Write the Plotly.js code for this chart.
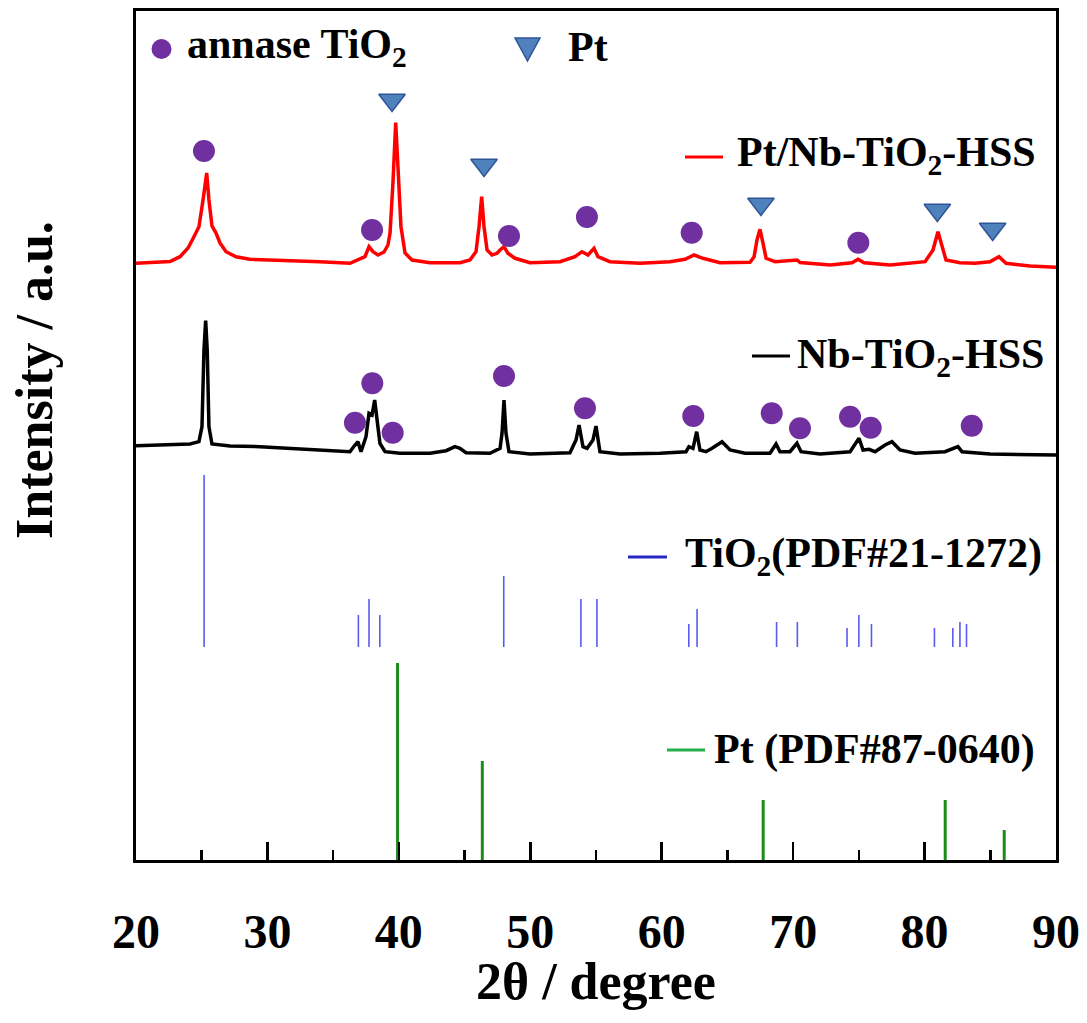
<!DOCTYPE html>
<html>
<head>
<meta charset="utf-8">
<script src="https://cdn.plot.ly/plotly-3.0.1.min.js"></script>
<style>
html,body{margin:0;padding:0;background:#fff;}
#chart{width:1087px;height:1023px;}
</style>
</head>
<body>
<div id="chart"></div>
<script>
// ---------- DATA ----------
// Pt/Nb-TiO2-HSS pattern (red)
const ptNbTheta = [20.00,21.07,22.59,23.35,23.96,24.41,24.79,25.10,25.38,25.55,25.78,26.09,26.39,26.85,27.61,28.67,30.96,34.00,36.28,37.42,37.73,38.03,38.41,38.87,39.17,39.33,39.55,39.76,39.93,40.16,40.47,41.00,42.37,44.65,45.41,45.87,46.10,46.30,46.48,46.71,47.09,47.47,47.70,48.00,48.30,48.84,49.98,52.26,53.40,53.93,54.39,54.85,55.15,56.06,58.35,60.63,61.77,62.46,63.14,64.44,66.72,67.03,67.25,67.48,67.71,67.94,68.63,70.30,70.53,72.81,74.48,74.94,75.40,77.38,80.04,80.64,81.02,81.33,81.63,82.70,83.84,84.98,85.66,86.20,88.02,90.00];
const ptNbInt   = [596.7,597.7,598.5,603.3,612,623.3,633.3,660,687,660,634,627,617,608.3,603.3,600.7,600,598.3,596.7,603.3,613.3,608.3,605,608,615,627,677,737.3,693.3,633.3,607,600,597.3,597.3,600,608.3,633.3,663.3,633.3,610,605,606.7,610,613.3,606.7,601.7,597.3,598.3,603.3,608.3,605,611.7,603.3,598.3,596.7,598.3,600.7,605,601.7,597.3,597.7,603.3,620,630.7,616.7,601.7,598.3,600,597.5,595,597.3,600.7,597.3,595,598.3,610,628.3,613.3,600,597.3,596.7,598.3,603.3,596.7,594,592.7];

// Nb-TiO2-HSS pattern (black)
const nbTheta = [20.00,21.83,24.11,24.79,25.02,25.17,25.30,25.42,25.55,25.78,27.15,29.43,31.72,34.00,36.28,36.66,36.89,37.12,37.50,37.73,37.96,38.16,38.34,38.56,38.95,40.09,42.37,43.59,44.27,44.65,45.11,46.93,47.70,47.85,48.00,48.15,48.38,49.98,53.02,53.48,53.71,54.01,54.32,54.77,55.00,55.30,56.83,59.87,61.85,62.07,62.38,62.66,62.91,63.37,63.83,64.59,65.20,66.34,68.24,68.70,69.00,69.76,70.29,70.60,72.04,74.33,75.01,75.32,75.78,76.23,76.99,77.52,78.13,79.27,81.55,81.93,82.54,82.85,84.98,90.00];
const nbInt   = [414.3,415,416,418.3,433.3,510,539.3,510,433.3,416,414,413.3,411.7,409.3,408.3,415,418.3,408.3,423.3,446.7,445,460,440,416.7,408.3,406.7,406.7,409.3,413.3,411.7,407.3,406.7,411.7,426.7,460,427,408.3,406,407.3,420,435,413.3,411.7,420,434,408.3,406,406.7,408.3,413.3,411.7,428.3,410,408.3,411.7,418.3,410,406.7,406.7,416,408.3,408.3,416.7,408.3,406,408.3,421.7,410,410.7,408.3,415,418.3,410,406.7,408.3,410,413.3,408.3,406,405];

// TiO2 reference PDF#21-1272 (blue sticks)
const tio2RefTheta = [25.18,36.92,37.73,38.55,47.98,53.85,55.07,62.06,62.69,68.74,70.32,74.10,75.00,75.96,80.75,82.15,82.69,83.19];
const tio2RefInt   = [172,32,48,32,71,48,48,23,38,25,25,19,32,23,19,19,25,23];
const tio2RefBase  = 213;

// Pt reference PDF#87-0640 (green sticks)
const ptRefTheta = [39.90,46.35,67.72,81.57,86.06];
const ptRefInt   = [197,99,60,60,30];
const ptRefBase  = 0;

// Peak markers: anatase TiO2 (circles) and Pt (triangles)
const anataseMarkTheta = [25.17,37.96,48.38,54.31,62.28,74.96, 36.66,37.98,39.53,48.00,54.16,62.40,68.37,70.52,74.33,75.90,83.59];
const anataseMarkY     = [709,630,624,643,627.3,617.3, 437.3,476.7,427.3,484,451.7,444,446.7,431.7,443.3,432.3,434.3];
const ptMarkTheta = [39.48,46.48,67.55,80.97,85.18];
const ptMarkY     = [760,695,656,650,631];

// Axis ticks
const xTickVals = [20,30,40,50,60,70,80,90];
const xTickText = ['20','30','40','50','60','70','80','90'];

// Labels
const seriesNames = ['Pt/Nb-TiO<sub>2</sub>-HSS','Nb-TiO<sub>2</sub>-HSS','TiO<sub>2</sub>(PDF#21-1272)','Pt (PDF#87-0640)'];
const markerNames = ['annase TiO<sub>2</sub>','Pt'];
const xTitle = '2θ / degree';
const yTitle = 'Intensity / a.u.';

// ---------- BUILD ----------
function sticks(pos, hts, base){
  const xs=[], ys=[];
  pos.forEach((p,i)=>{ xs.push(p,p,null); ys.push(base, base+hts[i], null); });
  return {x:xs, y:ys};
}
const tio2S = sticks(tio2RefTheta, tio2RefInt, tio2RefBase);
const ptS = sticks(ptRefTheta, ptRefInt, ptRefBase);

const FONT = 'Liberation Serif';
const purple = '#7030a0';
const triFill = '#4f81bd';

const traces = [
  {x:tio2S.x, y:tio2S.y, mode:'lines', line:{color:'#5a5af0', width:1.6}, hoverinfo:'skip'},
  {x:ptS.x, y:ptS.y, mode:'lines', line:{color:'#1a8c1a', width:3}, hoverinfo:'skip'},
  {x:nbTheta, y:nbInt, mode:'lines', line:{color:'#000000', width:3.5}},
  {x:ptNbTheta, y:ptNbInt, mode:'lines', line:{color:'#ff0000', width:3.5}},
  {x:anataseMarkTheta, y:anataseMarkY, mode:'markers', marker:{symbol:'circle', size:22, color:purple, line:{width:0}}},
  {x:ptMarkTheta, y:ptMarkY, mode:'markers', marker:{symbol:'triangle-down', size:23, color:triFill, line:{width:1.5, color:'#2f5597'}}}
];

// paper coordinate helpers (plot area: x 136..1056 px, y 11..860 px)
const L=136, R=1056, T=11, B=860;
const px = v => (v-L)/(R-L);
const py = v => (B-v)/(B-T);

const shapes = [
  {type:'line', xref:'paper', yref:'paper', x0:px(685), x1:px(723), y0:py(157), y1:py(157), line:{color:'#ff0000', width:3}},
  {type:'line', xref:'paper', yref:'paper', x0:px(752), x1:px(790), y0:py(356), y1:py(356), line:{color:'#000000', width:3}},
  {type:'line', xref:'paper', yref:'paper', x0:px(628), x1:px(667), y0:py(557), y1:py(557), line:{color:'#2828c8', width:3}},
  {type:'line', xref:'paper', yref:'paper', x0:px(667), x1:px(705), y0:py(750), y1:py(750), line:{color:'#22b04a', width:3}},
  {type:'circle', xref:'paper', yref:'paper', x0:px(151.5), x1:px(171.5), y0:py(59), y1:py(39), fillcolor:purple, line:{width:0}},
  {type:'path', xref:'paper', yref:'paper',
   path:`M ${px(515)} ${py(38)} L ${px(540)} ${py(38)} L ${px(527.5)} ${py(61)} Z`,
   fillcolor:triFill, line:{color:'#2f5597', width:1.5}}
];

const ann = (x,y,text,size) => ({xref:'paper', yref:'paper', x:px(x), y:py(y), text:text, showarrow:false, xanchor:'left', yanchor:'middle', font:{family:FONT, size:size||42, color:'#000', weight:'bold'}});
const annotations = [
  ann(185, 47, markerNames[0]),
  ann(566, 47, markerNames[1]),
  ann(735, 155, seriesNames[0]),
  ann(795, 357, seriesNames[1]),
  ann(683, 556, seriesNames[2]),
  ann(712, 749, seriesNames[3]),
  {xref:'paper', yref:'paper', x:px(34), y:py(380), text:yTitle, textangle:-90, showarrow:false, xanchor:'center', yanchor:'middle', font:{family:FONT, size:52, color:'#000', weight:'bold'}},
  {xref:'paper', yref:'paper', x:px(596), y:py(982), text:xTitle, showarrow:false, xanchor:'center', yanchor:'middle', font:{family:FONT, size:52, color:'#000', weight:'bold'}}
];

const layout = {
  width:1087, height:1023,
  margin:{l:L, r:1087-R, t:T, b:1023-B, pad:0},
  paper_bgcolor:'#fff', plot_bgcolor:'#fff',
  showlegend:false,
  xaxis:{
    range:[20,90], tickvals:xTickVals, ticktext:xTickText,
    ticks:'inside', ticklen:18, tickwidth:2.5, tickcolor:'#000',
    minor:{dtick:5, tick0:20, ticks:'inside', ticklen:10, tickwidth:2.5, tickcolor:'#000'},
    showline:true, linecolor:'#000', linewidth:3, mirror:true,
    showgrid:false, zeroline:false,
    ticklabelstandoff:27,
    tickfont:{family:FONT, size:48, color:'#000', weight:'bold'}
  },
  yaxis:{
    range:[0,849], showticklabels:false, ticks:'',
    showline:true, linecolor:'#000', linewidth:3, mirror:true,
    showgrid:false, zeroline:false
  },
  shapes:shapes,
  annotations:annotations
};

Plotly.newPlot('chart', traces, layout, {staticPlot:true, displayModeBar:false});
</script>
</body>
</html>
